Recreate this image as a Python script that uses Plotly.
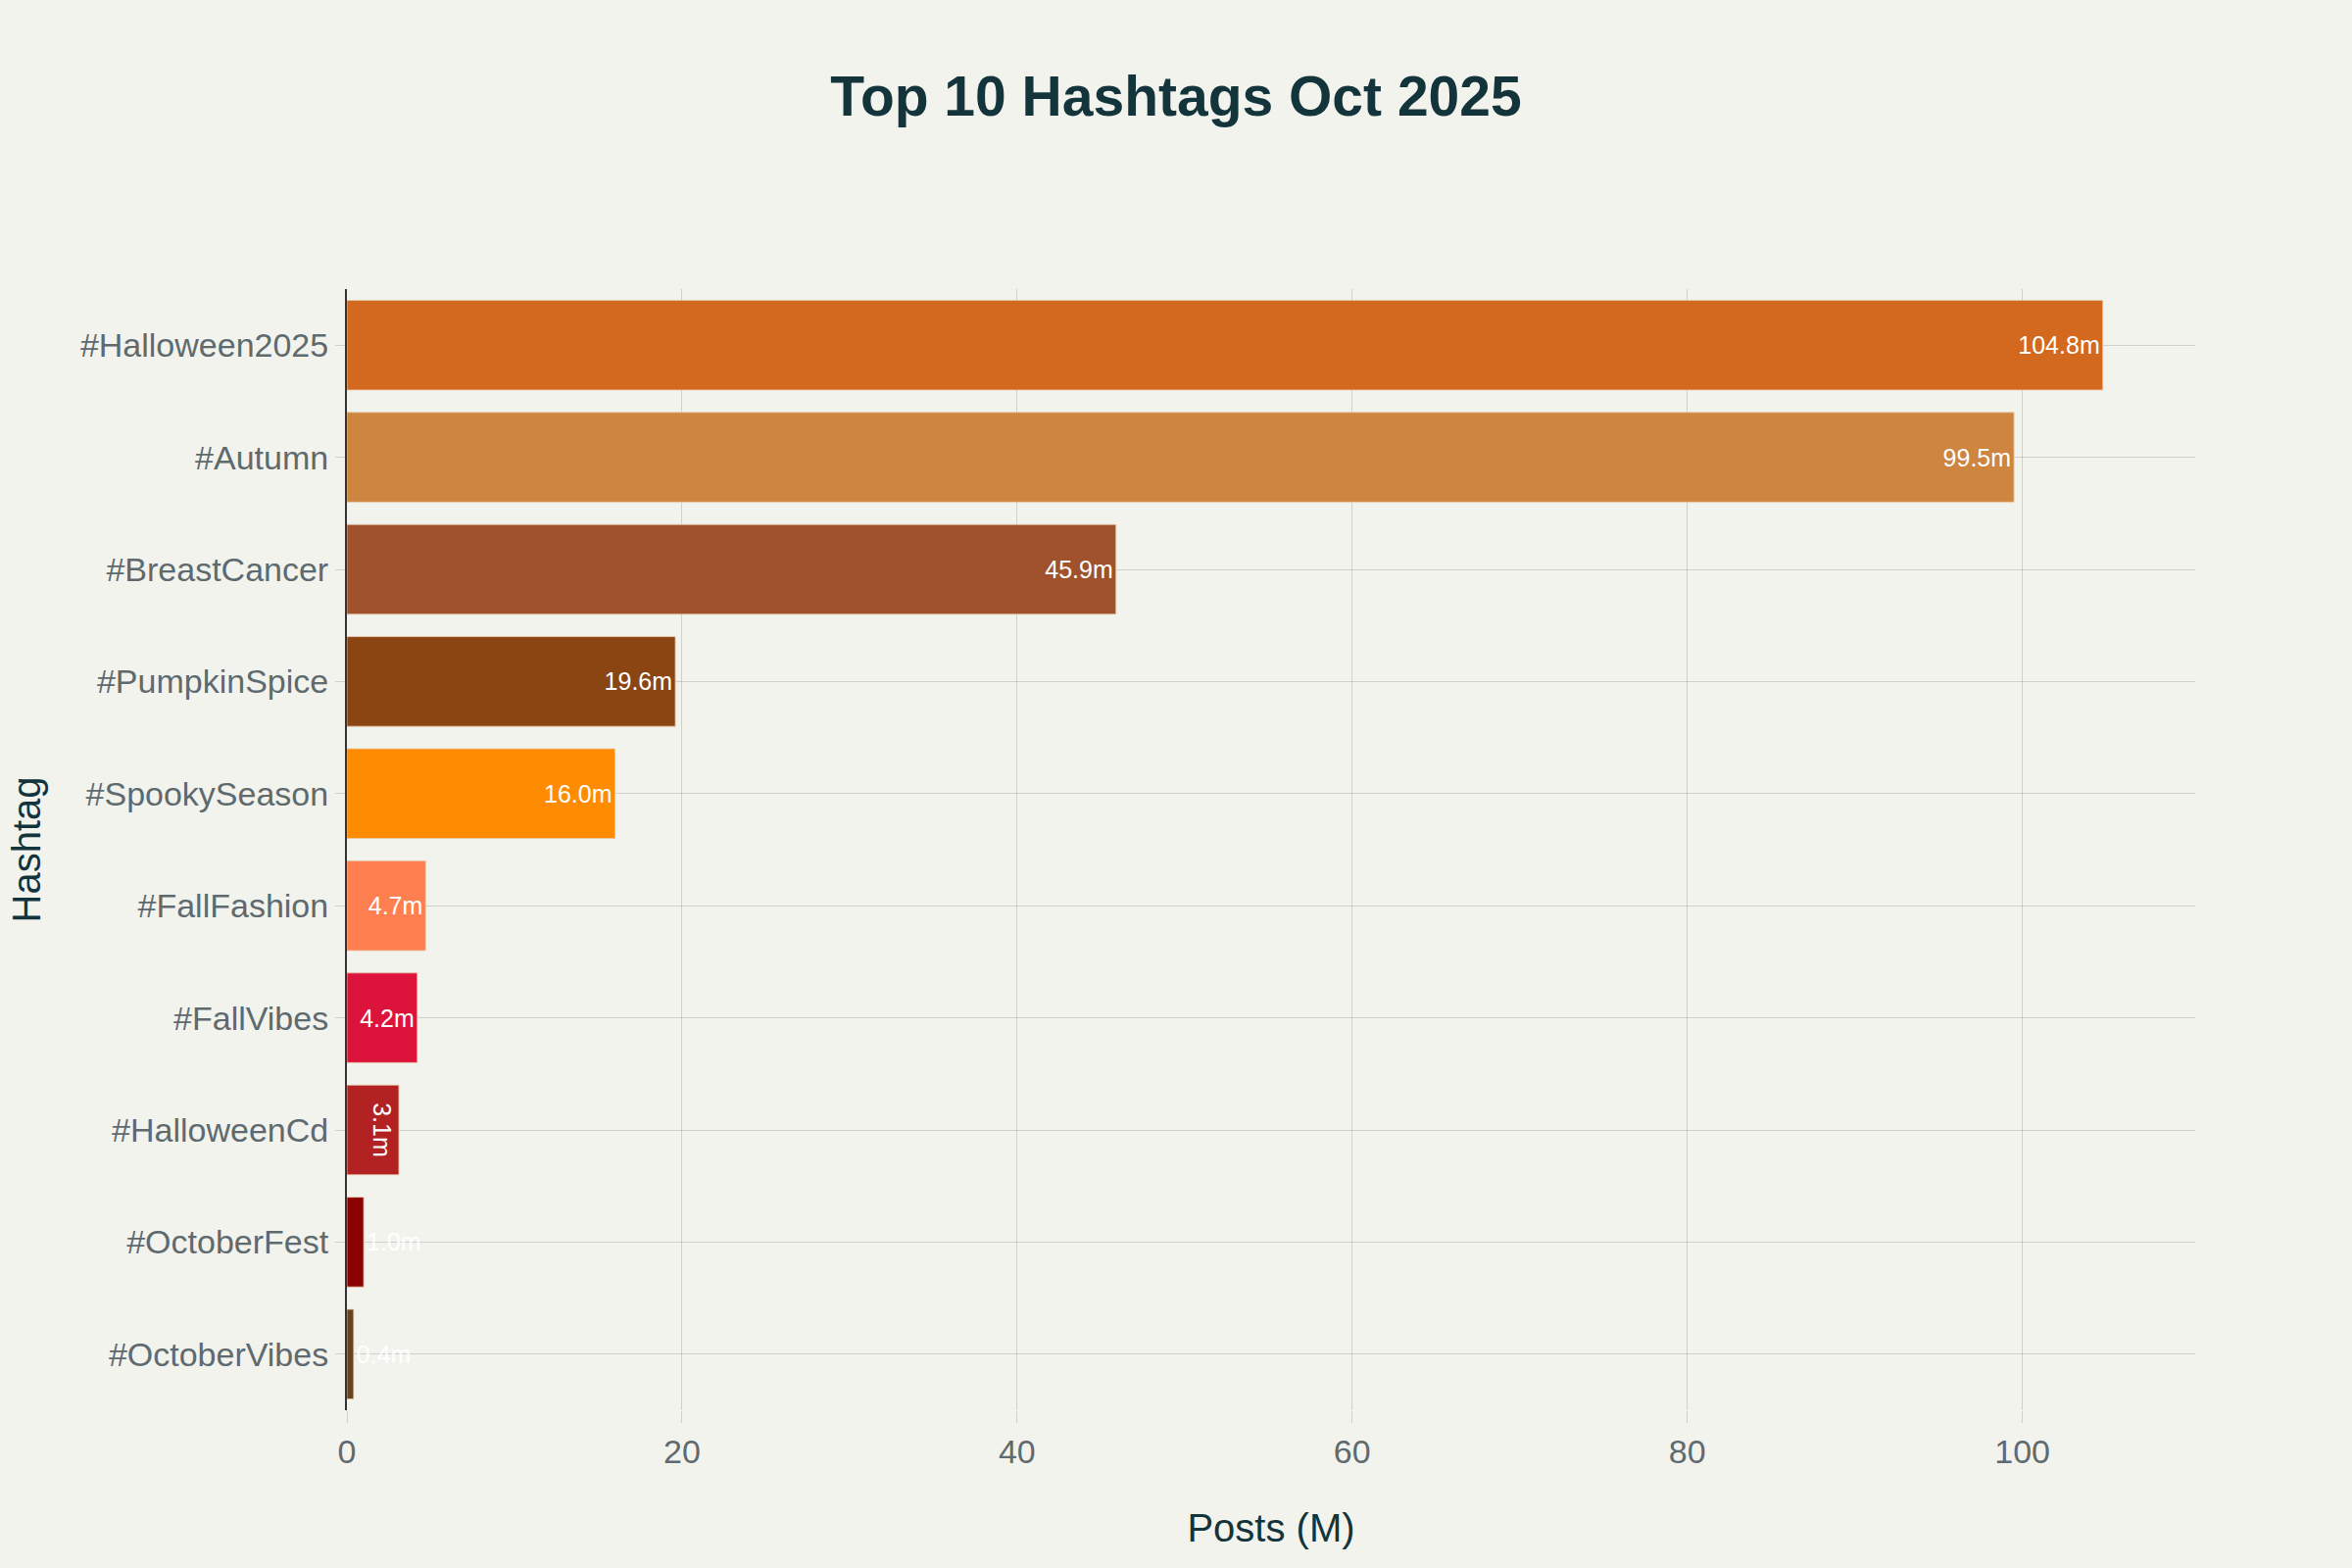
import plotly.graph_objects as go

# Data
hashtags = ["#Halloween2025", "#Autumn", "#BreastCancer", "#PumpkinSpice", "#SpookySeason",
            "#FallFashion", "#FallVibes", "#HalloweenCd", "#OctoberFest", "#OctoberVibes"]
posts_m = [104.8, 99.5, 45.9, 19.6, 16.0, 4.7, 4.2, 3.1, 1.0, 0.4]
bar_colors = ["#D2691E", "#CD853F", "#A0522D", "#8B4513", "#FF8C00",
              "#FF7F50", "#DC143C", "#B22222", "#8B0000", "#654321"]

BG = "#F3F3EE"
DARK = "#13343B"
GRID = "rgba(0, 0, 0, 0.14)"
FONT = "Liberation Sans, Arial, sans-serif"

fig = go.Figure()

fig.add_trace(go.Bar(
    x=posts_m,
    y=hashtags,
    orientation="h",
    marker=dict(color=bar_colors, line=dict(color="rgba(230, 200, 170, 0.8)", width=1)),
    text=[f"{v:.1f}m" for v in posts_m],
    textposition="auto",
    textfont=dict(color="white", size=25, family=FONT),
    showlegend=False,
))

fig.update_layout(
    width=2400,
    height=1600,
    title=dict(
        text="<b>Top 10 Hashtags Oct 2025</b>",
        x=0.5,
        xanchor="center",
        y=0.939,
        yanchor="middle",
        font=dict(size=57, color=DARK, family=FONT),
    ),
    paper_bgcolor=BG,
    plot_bgcolor=BG,
    bargap=0.2,
    margin=dict(l=354, r=160, t=295, b=161),
    font=dict(family=FONT),
    xaxis=dict(
        title=dict(text="Posts (M)", font=dict(size=40, color=DARK), standoff=46),
        showgrid=True,
        gridcolor=GRID,
        gridwidth=1,
        zeroline=False,
        ticks="outside",
        ticklen=12,
        tickcolor=GRID,
        tickfont=dict(size=34, color="#5E6A6E"),
        rangemode="tozero",
    ),
    yaxis=dict(
        title=dict(text="Hashtag", font=dict(size=40, color=DARK), standoff=28),
        autorange="reversed",
        showgrid=True,
        gridcolor=GRID,
        gridwidth=1,
        showline=True,
        linecolor="#333333",
        linewidth=2,
        ticks="outside",
        ticklen=10,
        tickcolor=GRID,
        tickfont=dict(size=34, color="#5E6A6E"),
    ),
)

# drop the page margin so the figure fills the window edge to edge
fig.write_html(
    "out.html",
    config={"displayModeBar": False},
    post_script="document.body.style.margin='0';document.body.style.background='#F3F3EE';",
)
